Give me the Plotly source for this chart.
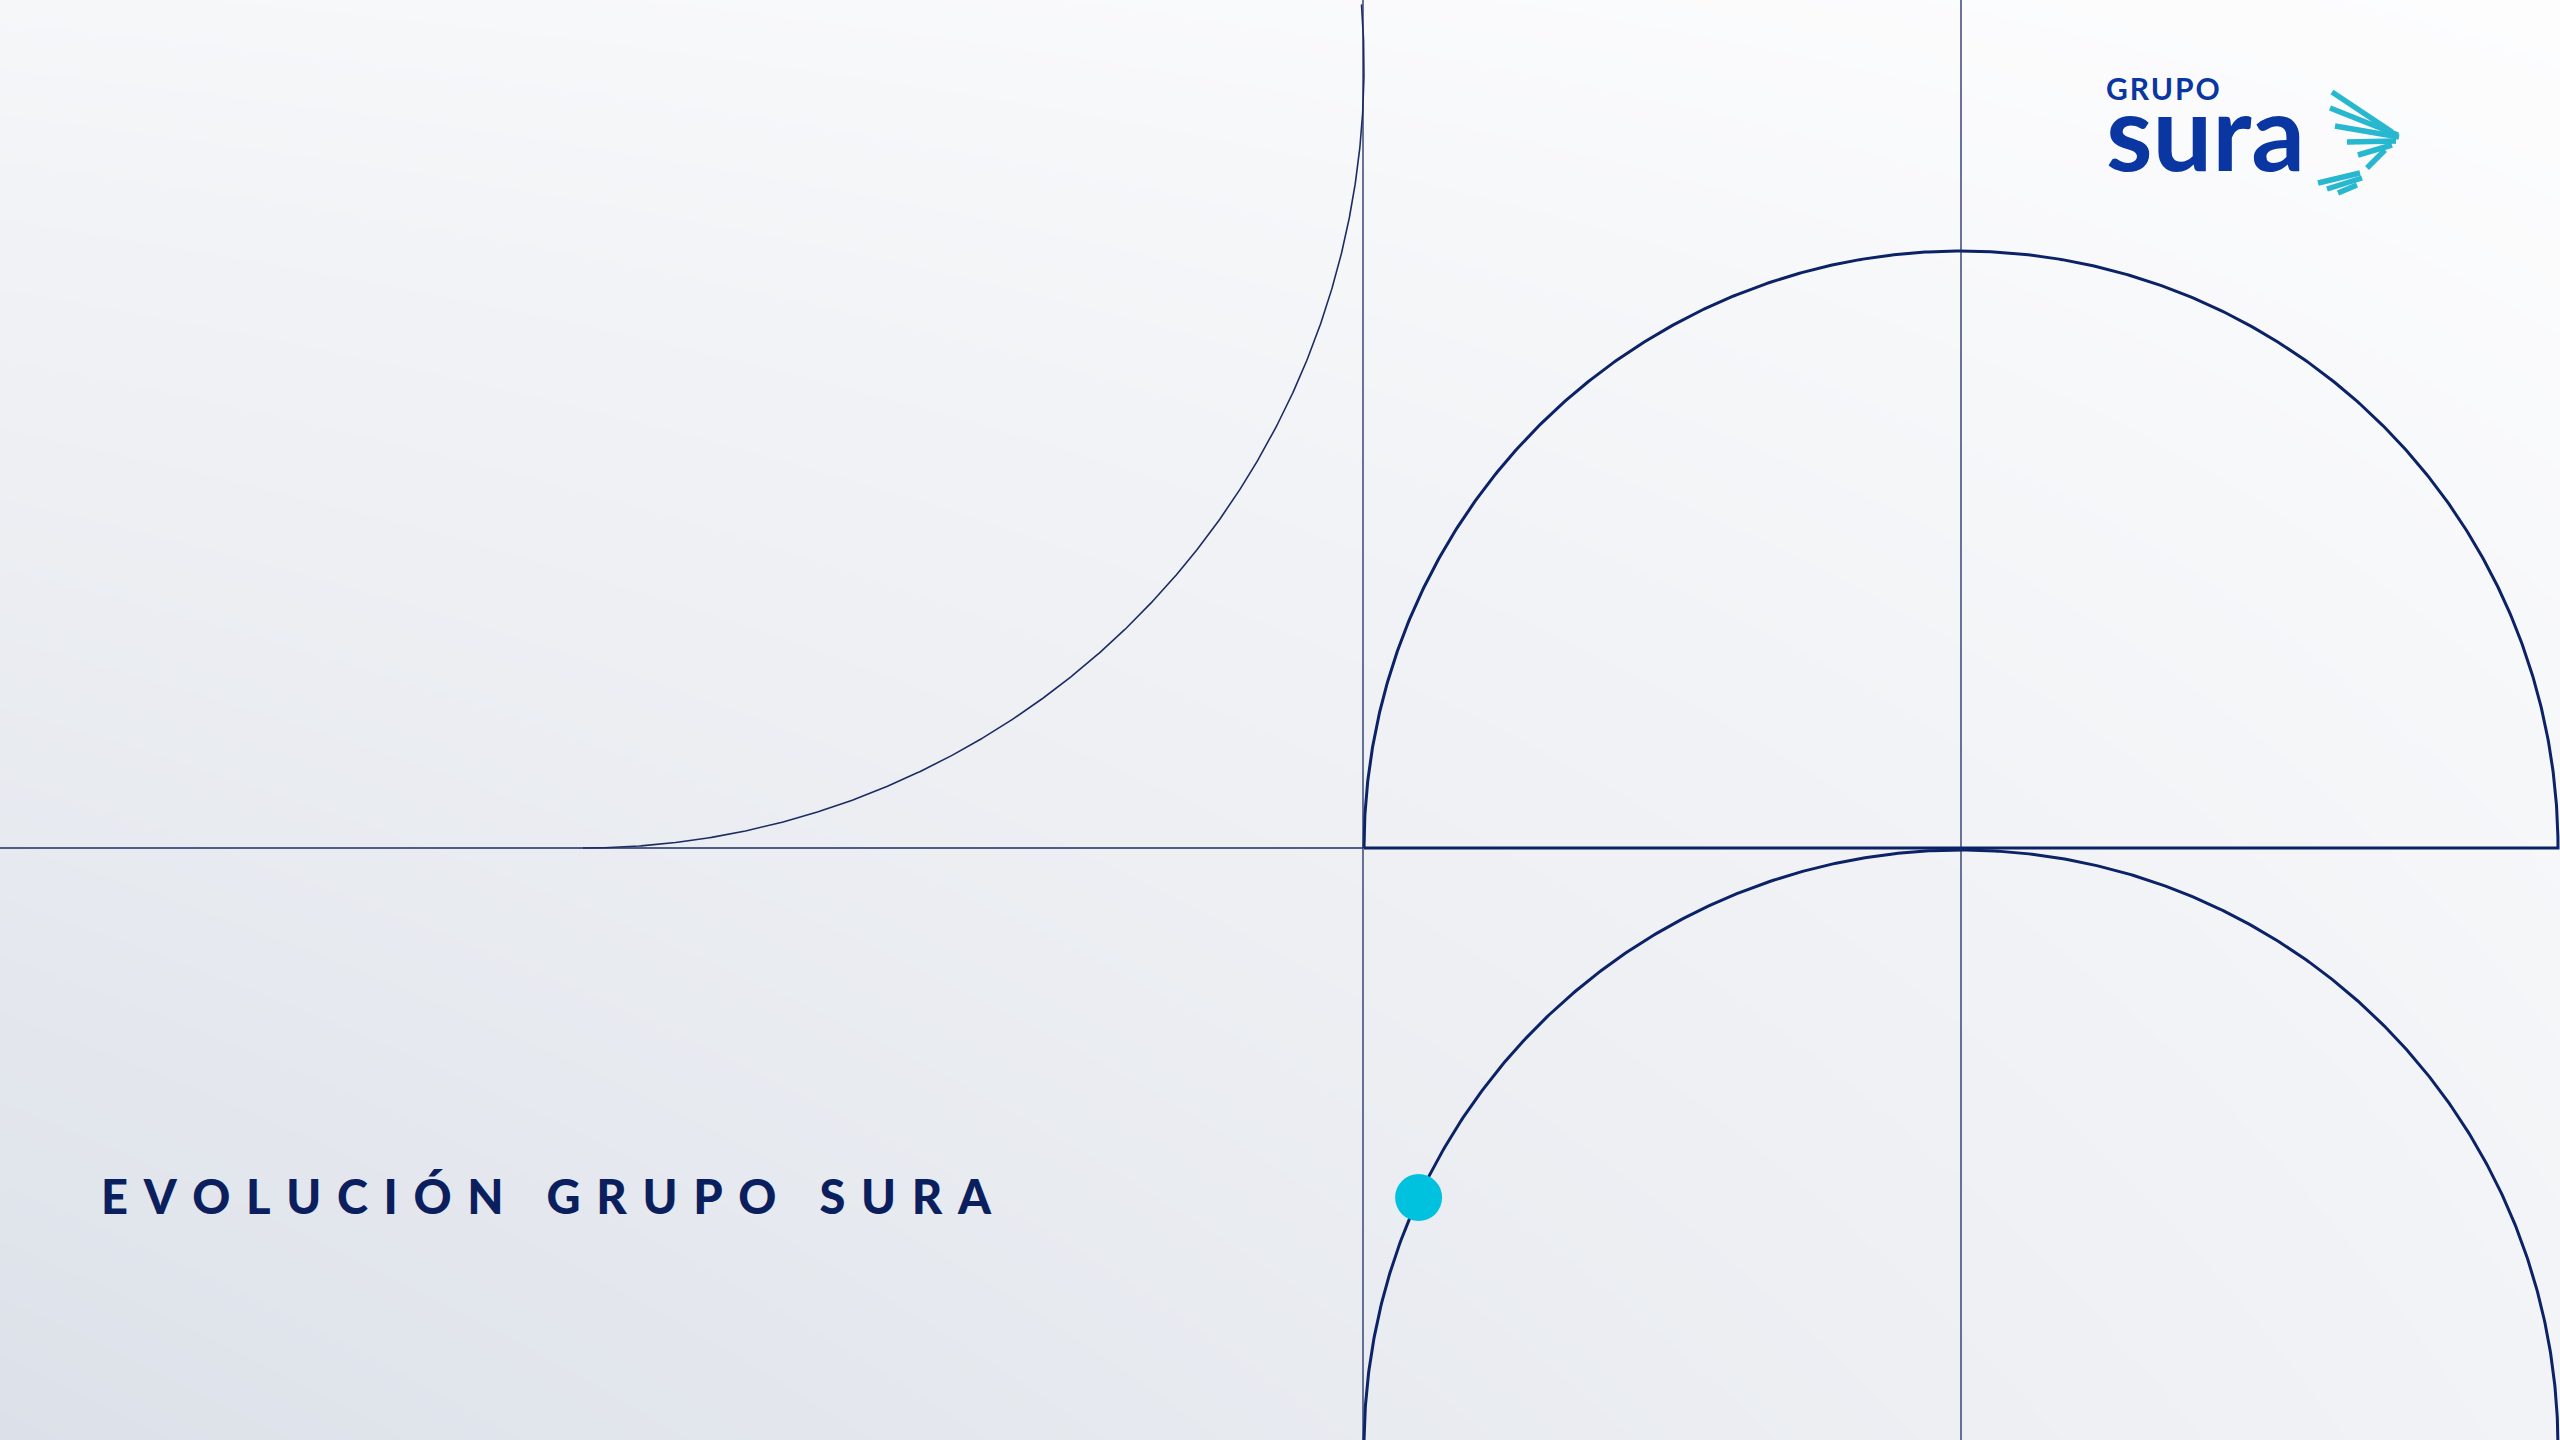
import numpy as np
import plotly.graph_objects as go

W, H = 2560, 1440

# ---- content ----
title_text = "EVOLUCIÓN GRUPO SURA"
logo_small = "GRUPO"
logo_big = "sura"

# ---- palette ----
NAVY = "#0B2266"
NAVY_THIN = "#1C2C62"
CYAN = "#00C2DE"
LOGO_BLUE = "#0A36A2"
WING = "#27B7CF"
BG_STOPS = [[0.0, "#DCE1E9"], [0.75, "#F2F3F6"], [0.86, "#F6F7F9"], [1.0, "#FDFDFE"]]
bg_corner_values = [[0.0, 0.75], [0.86, 1.0]]  # rows: bottom, top

# ---- geometry (page pixels) ----
grid_x = [1363, 1961]
grid_y = 848
upper_center = (1961, 848)
upper_radius = 597
lower_center = (1961, 1447)
lower_radius = 597
quarter_center = (583, 67)
quarter_radius = 781
quarter_angles = (-4.6, 90)       # degrees, screen coords (y down)
dot_angle = 204.7                  # degrees on lower circle
wing_starts = [(2332, 92), (2330, 108), (2335, 126), (2347, 142), (2358, 155),
               (2367, 168), (2318, 183), (2327, 189), (2338, 193)]
wing_ends = [(2392, 132), (2398, 135), (2399, 137), (2396, 141), (2392, 145),
             (2385, 150), (2360, 173), (2362, 178), (2357, 185)]

fig = go.Figure()

# background gradient
fig.add_trace(go.Heatmap(
    x=[0, W], y=[H, 0], z=bg_corner_values, zsmooth="best",
    colorscale=BG_STOPS, zmin=0, zmax=1, showscale=False, hoverinfo="skip"))


def arc(cx, cy, r, a0, a1, n=600):
    t = np.radians(np.linspace(a0, a1, n))
    return cx + r * np.cos(t), cy + r * np.sin(t)

# thin grid lines
for gx in grid_x:
    fig.add_shape(type="line", x0=gx, x1=gx, y0=0, y1=H, xref="x", yref="y",
                  line=dict(color=NAVY_THIN, width=1.3), layer="above")
fig.add_shape(type="line", x0=0, x1=grid_x[0], y0=grid_y, y1=grid_y, xref="x", yref="y",
              line=dict(color=NAVY_THIN, width=1.3), layer="above")

# quarter arc top-left
qx, qy = arc(*quarter_center, quarter_radius, *quarter_angles)
fig.add_trace(go.Scatter(x=qx, y=qy, mode="lines", line=dict(color=NAVY_THIN, width=1.6),
                         hoverinfo="skip", showlegend=False))

# upper semicircle (closed with its diameter)
ux, uy = arc(*upper_center, upper_radius, 180, 360)
ux = np.append(ux, ux[0])
uy = np.append(uy, uy[0])
fig.add_trace(go.Scatter(x=ux, y=uy, mode="lines", line=dict(color=NAVY, width=3),
                         hoverinfo="skip", showlegend=False))

# lower circle
lx, ly = arc(*lower_center, lower_radius, 0, 360, 1200)
fig.add_trace(go.Scatter(x=lx, y=ly, mode="lines", line=dict(color=NAVY, width=3),
                         hoverinfo="skip", showlegend=False))

# cyan dot on lower circle
da = np.radians(dot_angle)
fig.add_trace(go.Scatter(x=[lower_center[0] + lower_radius * np.cos(da)],
                         y=[lower_center[1] + lower_radius * np.sin(da)],
                         mode="markers", marker=dict(color=CYAN, size=47, line=dict(width=0)),
                         hoverinfo="skip", showlegend=False, cliponaxis=False))

# wing of logo
for (x0, y0), (x1, y1) in zip(wing_starts, wing_ends):
    fig.add_shape(type="line", x0=x0, y0=y0, x1=x1, y1=y1, xref="x", yref="y",
                  line=dict(color=WING, width=5.5), layer="above")

# spaced title
spaced = "\u2004\u2005\u2004".join("\u2004".join(word) for word in title_text.split(" "))
fig.add_annotation(x=99, y=1196, xref="x", yref="y", text=spaced, showarrow=False,
                   xanchor="left", yanchor="middle",
                   font=dict(family="Lato", size=47, color="#0B1F5E", weight=900))

# logo text (one text block, two lines of different size)
small_spaced = "\u200a".join(logo_small)
logo_html = (f"<span style='font-size:30px'>{small_spaced}</span><br>"
             f"<span style='font-size:106px'>{logo_big}</span>")
fig.add_annotation(x=2104, y=130, xref="x", yref="y", text=logo_html, showarrow=False,
                   xanchor="left", yanchor="middle", align="left",
                   font=dict(family="Lato", size=55, color=LOGO_BLUE, weight="bold"))

fig.update_xaxes(range=[0, W], visible=False, fixedrange=True)
fig.update_yaxes(range=[H, 0], visible=False, fixedrange=True)
fig.update_layout(width=W, height=H, autosize=False,
                  margin=dict(l=0, r=0, t=0, b=0, pad=0),
                  paper_bgcolor="white", plot_bgcolor="white", showlegend=False)

fig.write_html("out.html", config={"displayModeBar": False},
               post_script="document.body.style.margin='0';"
                           "document.body.style.overflow='hidden';")
